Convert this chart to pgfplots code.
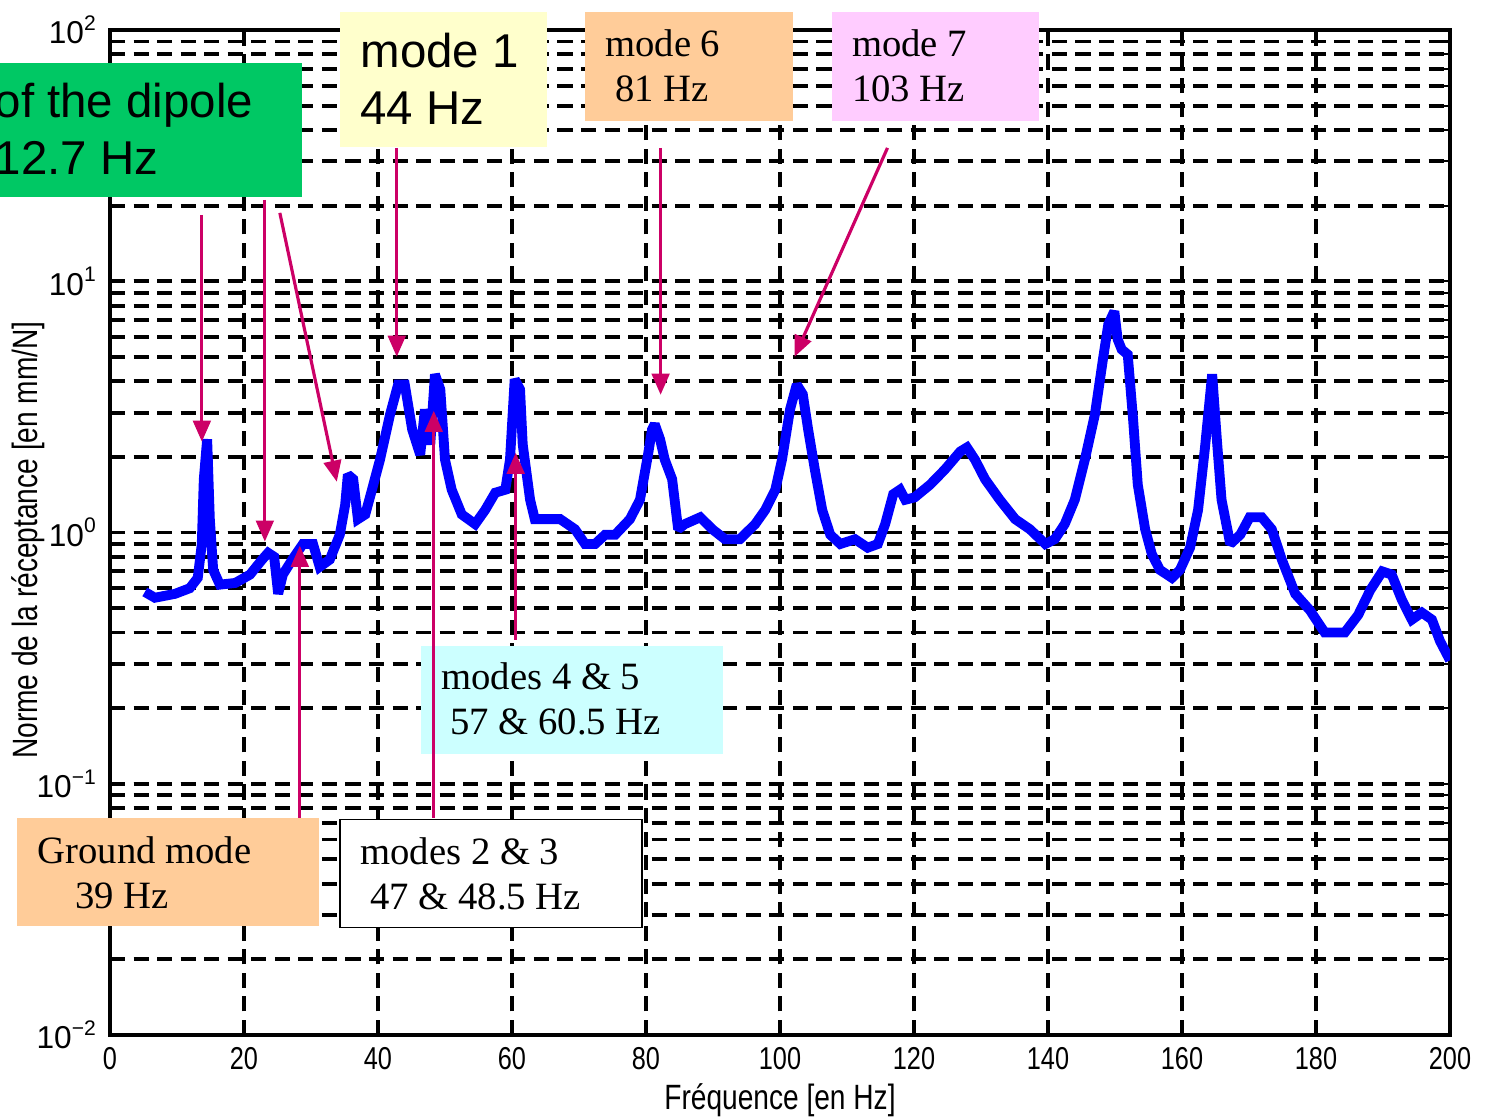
\documentclass[border=0pt]{standalone}
\usepackage{fontspec}
\setmainfont{Liberation Sans}
\newfontfamily\serif{Liberation Serif}
\usepackage{graphicx}
\usepackage{pgfplots}
\pgfplotsset{compat=1.18}
\usetikzlibrary{arrows.meta}

\definecolor{curve}{RGB}{0,0,255}
\definecolor{arr}{RGB}{204,0,102}
\definecolor{dipole}{RGB}{0,200,100}
\definecolor{pale}{RGB}{255,255,204}
\definecolor{peach}{RGB}{255,204,153}
\definecolor{rose}{RGB}{255,204,255}
\definecolor{aqua}{RGB}{204,255,255}

\newcommand{\narrowtext}[1]{\scalebox{0.8}[1]{#1}}

\begin{document}
\begin{tikzpicture}
\begin{axis}[
    scale only axis,
    width=13.4cm, height=10.05cm,
    ymode=log,
    xmin=0, xmax=200, ymin=0.01, ymax=100,
    xtick={0,20,...,200},
    ytick={0.01,0.1,1,10,100},
    yticklabels={10\textsuperscript{−2},10\textsuperscript{−1},10\textsuperscript{0},10\textsuperscript{1},10\textsuperscript{2}},
    xticklabel={\narrowtext{\pgfmathprintnumber[assume math mode=true]{\tick}}},
    tick label style={font=\fontsize{9}{10}\selectfont},
    tick align=inside,
    major tick length=4pt, minor tick length=2pt,
    tick style={black, line width=0.6pt},
    axis line style={line width=1.2pt},
    grid=both,
    major grid style={black, line width=1.1pt, dash pattern=on 4.3pt off 2.4pt},
    minor grid style={black, line width=1.1pt, dash pattern=on 4.3pt off 2.4pt},
    xlabel={\narrowtext{Fréquence [en Hz]}},
    ylabel={\narrowtext{Norme de la réceptance [en mm/N]}},
    label style={font=\fontsize{10}{12}\selectfont},
    every axis x label/.style={at={(rel axis cs:0.5,0)}, anchor=center, yshift=-0.65cm},
    every axis y label/.style={at={(rel axis cs:0,0.4925)}, anchor=center, xshift=-0.82cm, rotate=90},
]
\addplot[curve, line width=2.8pt, line join=miter, miter limit=2] coordinates {
(5.2,0.58) (6.7,0.55) (9.7,0.57) (11.9,0.60) (13.1,0.66) (13.7,0.90) (14.0,1.63) (14.5,2.35)
(14.9,1.13) (15.4,0.71) (16.4,0.62) (18.7,0.63) (20.9,0.68) (22.7,0.78) (23.6,0.83) (24.5,0.80)
(25.1,0.57) (25.8,0.68) (27.2,0.78) (28.8,0.90) (30.3,0.90) (31.3,0.73) (32.8,0.78) (34.3,0.98)
(35.1,1.29) (35.5,1.70) (36.3,1.63) (37.0,1.13) (38.1,1.18) (39.1,1.48) (40.3,1.95) (41.8,2.95)
(43.0,3.88) (44.0,3.88) (45.1,2.57) (46.3,2.04) (47.0,3.09) (47.8,2.24) (48.5,4.26) (49.3,3.71)
(50.0,1.95) (51.0,1.48) (52.5,1.18) (54.5,1.08) (56.0,1.23) (57.5,1.44) (59.0,1.48) (59.7,1.95)
(60.4,4.07) (61.2,3.71) (61.6,2.24) (62.7,1.35) (63.4,1.13) (67.2,1.13) (69.4,1.03) (70.9,0.90)
(72.4,0.90) (73.9,0.98) (75.4,0.98) (77.6,1.13) (79.1,1.35) (80.3,2.04) (80.9,2.57) (81.3,2.70)
(82.1,2.35) (82.8,1.95) (83.9,1.63) (84.8,1.03) (85.8,1.08) (88.1,1.15) (89.9,1.03) (91.8,0.94)
(94.0,0.94) (96.3,1.08) (97.8,1.23) (99.3,1.48) (100.3,1.95) (101.5,3.09) (102.5,3.88) (103.4,3.55)
(104.2,2.57) (105.2,1.78) (106.3,1.23) (107.5,0.98) (109.0,0.90) (111.2,0.94) (113.1,0.87) (114.6,0.90)
(115.7,1.08) (116.9,1.42) (117.9,1.48) (118.7,1.35) (120.1,1.38) (122.4,1.55) (124.6,1.78) (126.9,2.10)
(127.9,2.18) (129.1,1.95) (130.6,1.63) (132.8,1.35) (135.1,1.13) (137.3,1.03) (139.6,0.90) (141.0,0.94)
(142.5,1.08) (144.0,1.35) (145.5,1.95) (147.0,2.95) (148.2,4.89) (149.0,6.74) (149.9,7.59) (150.4,5.87)
(151.0,5.35) (151.9,5.11) (152.7,2.82) (153.4,1.55) (154.5,1.03) (155.5,0.82) (156.7,0.71) (158.5,0.66)
(159.7,0.71) (161.2,0.87) (162.4,1.23) (163.4,2.14) (164.5,4.26) (165.2,2.35) (165.9,1.35) (167.2,0.90)
(168.7,0.98) (170.1,1.15) (171.9,1.15) (173.4,1.03) (174.9,0.78) (176.9,0.57) (179.1,0.49) (181.3,0.40)
(184.3,0.40) (186.3,0.47) (188.1,0.59) (189.9,0.70) (191.3,0.68) (192.8,0.54) (194.3,0.45) (195.8,0.48)
(197.3,0.45) (198.5,0.37) (200.0,0.31)
};
\end{axis}

% annotations, placed in picture pixels (origin top left)
\begin{scope}[x=0.01cm, y=-0.01cm, shift={(-1.10cm,10.35cm)}]
  % boxes
  \fill[dipole] (-20,63) rectangle (302,197);
  \fill[pale] (340,12) rectangle (547,147);
  \fill[peach] (585,12) rectangle (793,121);
  \fill[rose] (832,12) rectangle (1040,121);
  \fill[aqua] (421,646) rectangle (723,754);
  \fill[peach] (17,818) rectangle (319,927);
  \draw[black, fill=white, line width=0.5pt] (340,820) rectangle (642,928);

  \begin{scope}[every node/.style={inner sep=0pt, anchor=base west}]
    \node[font=\fontsize{13.5}{16}\selectfont] at (-6,118) {of the dipole};
    \node[font=\fontsize{13.5}{16}\selectfont] at (-6,175) {12.7 Hz};
    \node[font=\fontsize{13.5}{16}\selectfont] at (360,68) {mode 1};
    \node[font=\fontsize{13.5}{16}\selectfont] at (360,125) {44 Hz};
    \node[font=\serif\fontsize{11}{13}\selectfont] at (605,57) {mode 6};
    \node[font=\serif\fontsize{11}{13}\selectfont] at (615,102) {81 Hz};
    \node[font=\serif\fontsize{11}{13}\selectfont] at (852,57) {mode 7};
    \node[font=\serif\fontsize{11}{13}\selectfont] at (852,102) {103 Hz};
    \node[font=\serif\fontsize{11}{13}\selectfont] at (441,690) {modes 4 \& 5};
    \node[font=\serif\fontsize{11}{13}\selectfont] at (450,735) {57 \& 60.5 Hz};
    \node[font=\serif\fontsize{11}{13}\selectfont] at (37,864) {Ground mode};
    \node[font=\serif\fontsize{11}{13}\selectfont] at (75,909) {39 Hz};
    \node[font=\serif\fontsize{11}{13}\selectfont] at (360,865) {modes 2 \& 3};
    \node[font=\serif\fontsize{11}{13}\selectfont] at (370,910) {47 \& 48.5 Hz};
  \end{scope}

  % arrows
  \begin{scope}[arr, line width=0.9pt, -{Triangle[width=5pt,length=6pt]}]
    \draw (202,215) -- (202,442);
    \draw (265,200) -- (265,542);
    \draw (280,213) -- (337,482);
    \draw (397,148) -- (397,357);
    \draw (661,148) -- (661,395);
    \draw (888,148) -- (795,357);
    \draw (300,818) -- (300,546);
    \draw (434,818) -- (434,411);
    \draw (516,640) -- (516,453);
  \end{scope}
\end{scope}

\pgfresetboundingbox
\useasboundingbox (-1.10cm,-0.82cm) rectangle (13.76cm,10.35cm);
\end{tikzpicture}
\end{document}
